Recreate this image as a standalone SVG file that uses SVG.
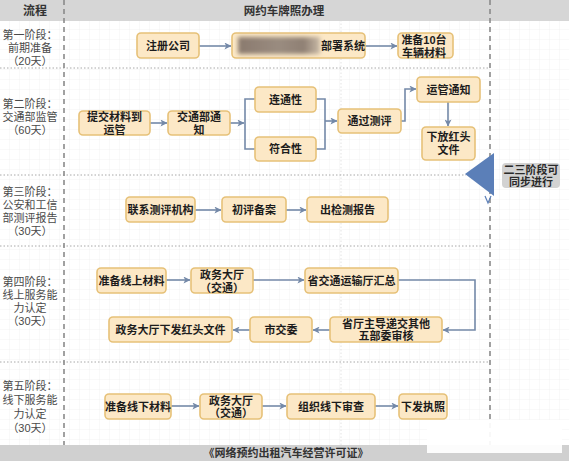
<svg xmlns="http://www.w3.org/2000/svg" width="569" height="461" viewBox="0 0 569 461">
<defs>
<pattern id="grid" width="10" height="10" patternUnits="userSpaceOnUse">
<path d="M10 0 V10 M0 10 H10" fill="none" stroke="#ececec" stroke-width="0.6"/>
</pattern>
<marker id="ah" viewBox="0 0 8 8" refX="7.5" refY="4" markerWidth="7" markerHeight="7" markerUnits="userSpaceOnUse" orient="auto">
<path d="M0 0 L8 4 L0 8 L2 4 Z" fill="#7489a8"/>
</marker>
<linearGradient id="blurg" x1="0" y1="0" x2="1" y2="0">
<stop offset="0" stop-color="#8a7a6e"/>
<stop offset="0.5" stop-color="#9a8c80"/>
<stop offset="0.8" stop-color="#8f8074"/>
<stop offset="1" stop-color="#c8b9a6"/>
</linearGradient>
<filter id="blur" x="-10%" y="-30%" width="120%" height="160%">
<feGaussianBlur stdDeviation="2"/>
</filter>
<style>
.node rect{fill:#fce8c6;stroke:#e6c178;stroke-width:1.6}
.nt{font-family:"Liberation Sans","Noto Sans CJK SC",sans-serif;font-size:11px;font-weight:bold;fill:#1c1c1c;text-anchor:middle;dominant-baseline:central}
.lbl{font-family:"Liberation Sans","Noto Sans CJK SC",sans-serif;font-size:11px;fill:#4a4a4a;text-anchor:middle;dominant-baseline:central}
.hdr{font-family:"Liberation Sans","Noto Sans CJK SC",sans-serif;font-size:12px;font-weight:bold;fill:#333;text-anchor:middle;dominant-baseline:central}
.conn path{fill:none;stroke:#7489a8;stroke-width:1.6}
.sep{stroke:#a8a8a8;stroke-width:1;stroke-dasharray:1.5 2}
.vd{stroke:#8a8a8a;stroke-width:1.6;stroke-dasharray:5 4}
</style>
</defs>
<rect width="569" height="461" fill="#ffffff"/>
<rect width="569" height="461" fill="url(#grid)"/>
<line x1="341" y1="20" x2="341" y2="445" stroke="#dcdcdc" stroke-width="0.8" stroke-dasharray="1.5 2"/>

<g id="header">
<rect x="0" y="0" width="569" height="21" fill="#d6d6d6"/>
<text class="hdr" x="35" y="11">流程</text>
<text class="hdr" x="284" y="11" style="font-size:11.5px">网约车牌照办理</text>
</g>

<g id="separators">
<line class="sep" x1="0" y1="68" x2="490" y2="68"/>
<line class="sep" x1="0" y1="175" x2="466" y2="175"/>
<line class="sep" x1="0" y1="246" x2="490" y2="246"/>
<line class="sep" x1="0" y1="362" x2="490" y2="362"/>
<line class="vd" x1="64" y1="0" x2="64" y2="445"/>
<line class="vd" x1="490" y1="0" x2="490" y2="445"/>
</g>

<g id="stage-labels">
<text class="lbl" x="30" y="35">第一阶段：</text>
<text class="lbl" x="30" y="48">前期准备</text>
<text class="lbl" x="30" y="61">（20天）</text>
<text class="lbl" x="30" y="104">第二阶段：</text>
<text class="lbl" x="30" y="117">交通部监管</text>
<text class="lbl" x="30" y="130">（60天）</text>
<text class="lbl" x="30" y="192">第三阶段：</text>
<text class="lbl" x="30" y="205">公安和工信</text>
<text class="lbl" x="30" y="218">部测评报告</text>
<text class="lbl" x="30" y="231">（30天）</text>
<text class="lbl" x="30" y="282">第四阶段：</text>
<text class="lbl" x="30" y="295">线上服务能</text>
<text class="lbl" x="30" y="308">力认定</text>
<text class="lbl" x="30" y="321">（30天）</text>
<text class="lbl" x="30" y="386">第五阶段：</text>
<text class="lbl" x="30" y="400">线下服务能</text>
<text class="lbl" x="30" y="414">力认定</text>
<text class="lbl" x="30" y="428">（30天）</text>
</g>

<g id="connectors" class="conn">
<path d="M199 46 H231" marker-end="url(#ah)"/>
<path d="M365 46 H397" marker-end="url(#ah)"/>
<path d="M150 123 H167" marker-end="url(#ah)"/>
<path d="M230 123 H244" marker-end="url(#ah)"/>
<path d="M255 99 H245 V149 H255"/>
<path d="M316 99 H325 V149 H316"/>
<path d="M325 121 H337" marker-end="url(#ah)"/>
<path d="M401 121 H405 V89 H416" marker-end="url(#ah)"/>
<path d="M448 102 V126" marker-end="url(#ah)"/>
<path d="M195 210 H221" marker-end="url(#ah)"/>
<path d="M286 210 H306" marker-end="url(#ah)"/>
<path d="M166 280 H190" marker-end="url(#ah)"/>
<path d="M253 280 H304" marker-end="url(#ah)"/>
<path d="M398 280 H475 V330 H443" marker-end="url(#ah)"/>
<path d="M330 330 H313" marker-end="url(#ah)"/>
<path d="M250 330 H233" marker-end="url(#ah)"/>
<path d="M171 406 H199" marker-end="url(#ah)"/>
<path d="M262 406 H286" marker-end="url(#ah)"/>
<path d="M375 406 H398" marker-end="url(#ah)"/>
</g>

<g id="n-zhuce" class="node"><rect x="137" y="33" width="62" height="25" rx="4"/><text class="nt" x="168" y="45.5">注册公司</text></g>
<g id="n-bushu" class="node"><rect x="232" y="33" width="133" height="25" rx="4"/>
<rect x="238" y="37" width="82" height="17" fill="url(#blurg)" stroke="none" filter="url(#blur)" style="fill:url(#blurg);stroke:none"/>
<text class="nt" x="343" y="45.5">部署系统</text></g>
<g id="n-cheliang" class="node"><rect x="398" y="33" width="55" height="25" rx="4"/><text class="nt" x="424" y="39.5">准备10台</text><text class="nt" x="424" y="52.5">车辆材料</text></g>

<g id="n-tijiao" class="node"><rect x="79" y="111" width="71" height="24" rx="4"/><text class="nt" x="114.5" y="117">提交材料到</text><text class="nt" x="114.5" y="130">运管</text></g>
<g id="n-jtbtz" class="node"><rect x="168" y="111" width="62" height="24" rx="4"/><text class="nt" x="199" y="117">交通部通</text><text class="nt" x="199" y="130">知</text></g>
<g id="n-liantong" class="node"><rect x="255" y="87" width="61" height="25" rx="4"/><text class="nt" x="285.5" y="99.5">连通性</text></g>
<g id="n-fuhe" class="node"><rect x="255" y="137" width="61" height="24" rx="4"/><text class="nt" x="285.5" y="149">符合性</text></g>
<g id="n-tongguo" class="node"><rect x="338" y="109" width="63" height="24" rx="4"/><text class="nt" x="369.5" y="121">通过测评</text></g>
<g id="n-yunguan" class="node"><rect x="417" y="77" width="63" height="25" rx="4"/><text class="nt" x="448.5" y="89.5">运管通知</text></g>
<g id="n-xiafang" class="node"><rect x="422" y="127" width="53" height="33" rx="4"/><text class="nt" x="448.5" y="136.5">下放红头</text><text class="nt" x="448.5" y="150">文件</text></g>

<g id="n-sync">
<path d="M465 174 L494 153 L494 196 Z" fill="#5b7fb8"/>
<path d="M485 196 L488 203 L491 196" fill="none" stroke="#5b7fb8" stroke-width="1.2"/>
<rect x="502" y="163" width="58" height="25" rx="4" fill="#d2d2d2"/>
<text class="nt" x="531" y="169.5" style="fill:#2a2a2a">二三阶段可</text>
<text class="nt" x="531" y="182" style="fill:#2a2a2a">同步进行</text>
</g>

<g id="n-lianxi" class="node"><rect x="126" y="197" width="69" height="25" rx="4"/><text class="nt" x="160.5" y="209.5">联系测评机构</text></g>
<g id="n-chuping" class="node"><rect x="222" y="197" width="64" height="25" rx="4"/><text class="nt" x="254" y="209.5">初评备案</text></g>
<g id="n-chujian" class="node"><rect x="307" y="197" width="81" height="25" rx="4"/><text class="nt" x="347.5" y="209.5">出检测报告</text></g>

<g id="n-xianshang" class="node"><rect x="97" y="268" width="69" height="25" rx="4"/><text class="nt" x="131.5" y="280.5">准备线上材料</text></g>
<g id="n-zwdt1" class="node"><rect x="191" y="268" width="62" height="25" rx="4"/><text class="nt" x="222" y="274.5">政务大厅</text><text class="nt" x="222" y="287.5">（交通）</text></g>
<g id="n-sheng" class="node"><rect x="305" y="268" width="93" height="25" rx="4"/><text class="nt" x="351.5" y="280.5">省交通运输厅汇总</text></g>
<g id="n-wubuwei" class="node"><rect x="330" y="317" width="112" height="25" rx="4"/><text class="nt" x="386" y="323.5">省厅主导递交其他</text><text class="nt" x="386" y="336">五部委审核</text></g>
<g id="n-shijiao" class="node"><rect x="250" y="317" width="62" height="25" rx="4"/><text class="nt" x="281" y="329.5">市交委</text></g>
<g id="n-hongtou" class="node"><rect x="109" y="317" width="123" height="25" rx="4"/><text class="nt" x="170.5" y="329.5">政务大厅下发红头文件</text></g>

<g id="n-xianxia" class="node"><rect x="105" y="394" width="66" height="25" rx="4"/><text class="nt" x="138" y="406.5">准备线下材料</text></g>
<g id="n-zwdt2" class="node"><rect x="200" y="394" width="62" height="25" rx="4"/><text class="nt" x="231" y="400.5">政务大厅</text><text class="nt" x="231" y="413">（交通）</text></g>
<g id="n-shencha" class="node"><rect x="287" y="394" width="88" height="25" rx="4"/><text class="nt" x="331" y="406.5">组织线下审查</text></g>
<g id="n-zhizhao" class="node"><rect x="399" y="394" width="48" height="25" rx="4"/><text class="nt" x="423" y="406.5">下发执照</text></g>

<g id="footer">
<rect x="0" y="445" width="569" height="16" fill="#d0d0d0"/>
<text class="hdr" x="286" y="453" style="font-size:11px">《网络预约出租汽车经营许可证》</text>
</g>
<rect x="427" y="420" width="135" height="33" fill="#ffffff" opacity="0.92"/>
</svg>
